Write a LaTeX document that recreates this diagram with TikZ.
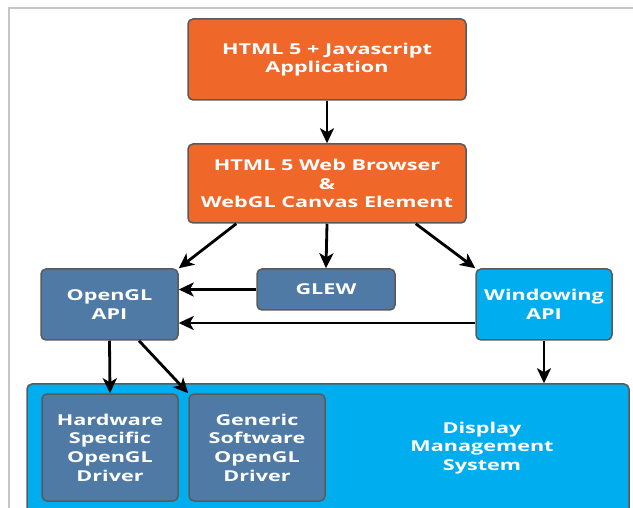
\documentclass[tikz,border=0pt]{standalone}
\usepackage{fontspec}
\setmainfont{Open Sans}[FakeStretch=1.44]
\usetikzlibrary{arrows.meta,calc}

\definecolor{webOrange}{HTML}{F0672A}
\definecolor{glBlue}{HTML}{4E7AA5}
\definecolor{sysCyan}{HTML}{00AEEF}
\definecolor{boxEdge}{HTML}{5A5A5A}

\tikzset{
	layer/.style={draw=boxEdge, line width=1.5pt, rounded corners=5pt, text=white,
		font=\fontsize{15}{18.7}\selectfont\bfseries, align=center, inner sep=0pt},
	arr/.style={-{Stealth[length=15pt,width=14pt,inset=4pt]}, line width=2.8pt}
}

\begin{document}
\begin{tikzpicture}[x=1pt,y=-1pt]
		\clip (0,0) rectangle (633,508);
		\useasboundingbox (0,0) rectangle (633,508);
		% frame
		\draw[gray!45, line width=1.5pt] (9,520) -- (9,8) -- (640,8);
		% boxes
		\node[layer, fill=webOrange, minimum width=278pt, minimum height=81pt] (app) at (327,59.5) {HTML 5 + Javascript\\Application};
		\node[layer, fill=webOrange, minimum width=278pt, minimum height=79pt] (browser) at (327,183.5) {HTML 5 Web Browser\\\&\\WebGL Canvas Element};
		\node[layer, fill=glBlue, minimum width=137pt, minimum height=71pt] (opengl) at (109.5,304.5) {OpenGL\\API};
		\node[layer, fill=glBlue, minimum width=138pt, minimum height=41pt] (glew) at (326,289.5) {GLEW};
		\node[layer, fill=sysCyan, minimum width=136pt, minimum height=71pt] (windowing) at (544,304.5) {Windowing\\API};
		\node[layer, fill=sysCyan, minimum width=602pt, minimum height=150pt] (display) at (328,459) {};
		\node[text=white, font=\fontsize{15}{18.7}\selectfont\bfseries, align=center] (dms) at (482,448) {Display\\Management\\System};
		\node[layer, fill=glBlue, minimum width=136pt, minimum height=107pt] (hardware) at (110,447.5) {Hardware\\Specific\\OpenGL\\Driver};
		\node[layer, fill=glBlue, minimum width=136pt, minimum height=107pt] (generic) at (257,447.5) {Generic\\Software\\OpenGL\\Driver};
		% arrows
		\draw[arr] (app.south) -- (browser.north);
		\draw[arr] ($(browser.south west)+(49,0)$) -- (opengl.north east);
		\draw[arr] (browser.south) -- (glew.north);
		\draw[arr] ($(browser.south east)+(-51,0)$) -- (windowing.north west);
		\draw[arr] (glew.west) -- (opengl.east |- glew.west);
		\draw[arr] ($(windowing.west)+(0,18.5)$) coordinate (wl) -- (opengl.east |- wl);
		\draw[arr] (opengl.south) -- (hardware.north);
		\draw[arr] ($(opengl.south)+(29.5,0)$) -- (generic.north west);
		\draw[arr] (windowing.south) -- (windowing.south |- display.north);
\end{tikzpicture}
\end{document}
